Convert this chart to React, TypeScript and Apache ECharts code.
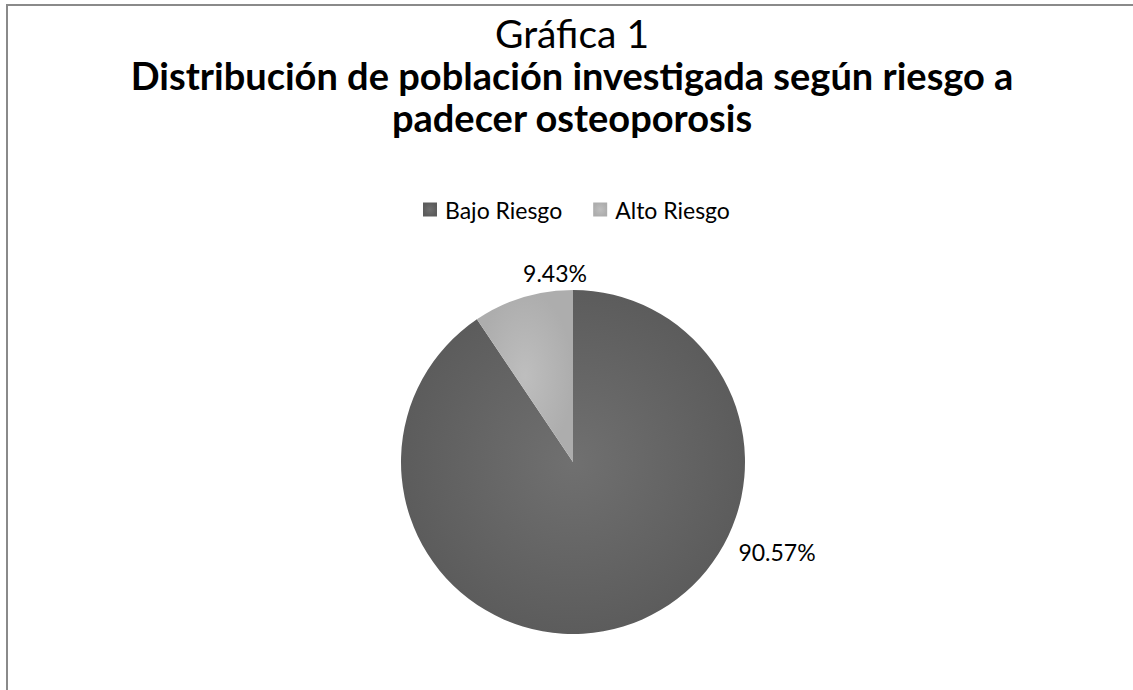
import React, { useEffect, useRef } from "react";
import * as echarts from "echarts";

const categories = ["Bajo Riesgo", "Alto Riesgo"];
const values = [96, 10];
const titleMain = "Gráfica 1";
const titleSubLines = ["Distribución de población investigada según riesgo a", "padecer osteoporosis"];

const FONT = "Lato, 'Open Sans', sans-serif";
const CX = 573;
const CY = 462;
const R = 172;
// label offsets from pie centre (as placed in the original)
const labelOffsets = [
  [204, 90],
  [-18, -189],
];

export default function App() {
  const ref = useRef<HTMLDivElement>(null);
  useEffect(() => {
    if (!ref.current) return;
    const chart = echarts.init(ref.current, null, { renderer: "svg" });
    const colors = [
      new echarts.graphic.RadialGradient(0.5, 0.5, 0.5, [
        { offset: 0, color: "#707070" },
        { offset: 1, color: "#5c5c5c" },
      ]),
      new echarts.graphic.RadialGradient(0.5, 0.5, 0.5, [
        { offset: 0, color: "#bebebe" },
        { offset: 1, color: "#adadad" },
      ]),
    ];
    chart.setOption({
      animation: false,
      backgroundColor: "#fff",
      graphic: [
        {
          type: "rect",
          shape: { x: 7, y: 5, width: 1200, height: 800 },
          style: { fill: "none", stroke: "#8a8a8a", lineWidth: 2 },
          silent: true,
        },
      ],
      title: [
        {
          text: titleMain,
          left: 572,
          top: 14,
          padding: 0,
          textAlign: "center",
          textStyle: { fontFamily: FONT, fontSize: 39, fontWeight: "normal", color: "#000", lineHeight: 38 },
        },
        ...titleSubLines.map((t, i) => ({
          text: t,
          left: 572,
          top: 55 + i * 42,
          padding: 0,
          textAlign: "center",
          textStyle: { fontFamily: FONT, fontSize: 38, fontWeight: "bold", color: "#000", lineHeight: 39 },
        })),
      ],
      legend: {
        data: categories,
        left: 418,
        top: 193,
        orient: "horizontal",
        icon: "rect",
        itemWidth: 14,
        itemHeight: 14,
        itemGap: 31,
        textStyle: { fontFamily: FONT, fontSize: 23, color: "#000", padding: [0, 0, 0, 3] },
      },
      series: [
        {
          type: "pie",
          center: [CX, CY],
          radius: R,
          startAngle: 90,
          clockwise: true,
          color: colors,
          label: {
            show: true,
            position: "outside",
            formatter: "{d}%",
            fontFamily: FONT,
            fontSize: 23,
            color: "#000",
          },
          labelLine: { show: false },
          labelLayout: (p: any) => ({
            x: CX + labelOffsets[p.dataIndex][0],
            y: CY + labelOffsets[p.dataIndex][1],
            align: "center",
            verticalAlign: "middle",
          }),
          data: categories.map((c, i) => ({ name: c, value: values[i] })),
        },
      ],
    });
    return () => chart.dispose();
  }, []);
  return (
    <div
      ref={ref}
      style={{ position: "fixed", left: 0, top: 0, width: 1133, height: 690 }}
    />
  );
}
